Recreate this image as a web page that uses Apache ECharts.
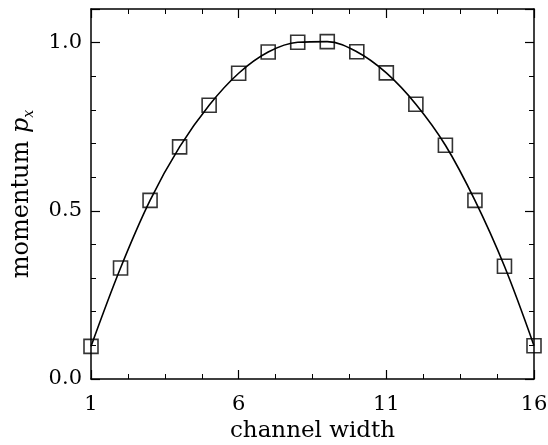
<!DOCTYPE html>
<html>
<head>
<meta charset="utf-8">
<script src="https://cdn.jsdelivr.net/npm/echarts@6/dist/echarts.min.js"></script>
<style>html,body{margin:0;padding:0;background:#fff;}#c{width:548px;height:445px;}</style>
</head>
<body>
<div id="c"></div>
<script>
var channelWidth = [1, 2, 3, 4, 5, 6, 7, 8, 9, 10, 11, 12, 13, 14, 15, 16];
var momentum = [0.097, 0.330, 0.531, 0.690, 0.814, 0.909, 0.972, 1.001, 1.003, 0.973, 0.910, 0.817, 0.695, 0.531, 0.335, 0.099];
var xTicks = [1, 6, 11, 16];
var yTicks = [0.0, 0.5, 1.0];

var pts = channelWidth.map(function (x, i) { return [x, momentum[i]]; });
var font = 'DejaVu Serif';
function axisParts(split) {
  return {
    axisLine: { show: true, onZero: false, lineStyle: { color: '#000', width: 1.5 } },
    axisTick: { show: true, inside: true, length: 9, lineStyle: { color: '#000', width: 1.2 } },
    minorTick: { show: true, splitNumber: split, length: 5, lineStyle: { color: '#000', width: 1 } },
    splitLine: { show: false }
  };
}

var option = {
  backgroundColor: '#fff',
  animation: false,
  grid: { left: 91, right: 14, top: 9, bottom: 66, containLabel: false, outerBoundsMode: 'none' },
  xAxis: [
    Object.assign(axisParts(4), {
      type: 'value', position: 'bottom', min: 1, max: 16, interval: 5,
      axisLabel: { inside: false, margin: 15, color: '#000', fontFamily: font, fontSize: 21,
        formatter: function (v) { return xTicks.indexOf(v) >= 0 ? String(v) : ''; } },
      name: 'channel width', nameLocation: 'middle', nameGap: 35,
      nameTextStyle: { color: '#000', fontFamily: font, fontSize: 23 }
    }),
    Object.assign(axisParts(4), {
      type: 'value', position: 'top', min: 1, max: 16, interval: 5,
      axisLabel: { show: false }
    })
  ],
  yAxis: [
    Object.assign(axisParts(5), {
      type: 'value', position: 'left', min: 0, max: 1.1, interval: 0.5,
      axisLabel: { inside: false, margin: 9, color: '#000', fontFamily: font, fontSize: 21, showMaxLabel: false,
        formatter: function (v) {
          for (var i = 0; i < yTicks.length; i++) if (Math.abs(yTicks[i] - v) < 1e-6) return yTicks[i].toFixed(1);
          return '';
        } },
      name: 'momentum {i|p}{s|x}', nameLocation: 'middle', nameGap: 55, nameRotate: 90,
      nameTextStyle: { color: '#000', fontFamily: font, fontSize: 24, lineHeight: 28,
        rich: {
          i: { fontFamily: font, fontStyle: 'italic', fontSize: 24, lineHeight: 28, color: '#000' },
          s: { fontFamily: font, fontStyle: 'italic', fontSize: 14, lineHeight: 14, color: '#000', verticalAlign: 'bottom' }
        } }
    }),
    Object.assign(axisParts(5), {
      type: 'value', position: 'right', min: 0, max: 1.1, interval: 0.5,
      axisLabel: { show: false }
    })
  ],
  series: [
    {
      type: 'line', data: pts, smooth: 0.35, showSymbol: false, symbol: 'none',
      lineStyle: { color: '#000', width: 1.6 }, z: 2
    },
    {
      type: 'scatter', data: pts, symbol: 'rect', symbolSize: 14,
      itemStyle: { color: 'none', borderColor: '#000', borderWidth: 1.6 }, z: 3
    }
  ]
};
echarts.init(document.getElementById('c'), null, { renderer: 'canvas' }).setOption(option);
</script>
</body>
</html>
